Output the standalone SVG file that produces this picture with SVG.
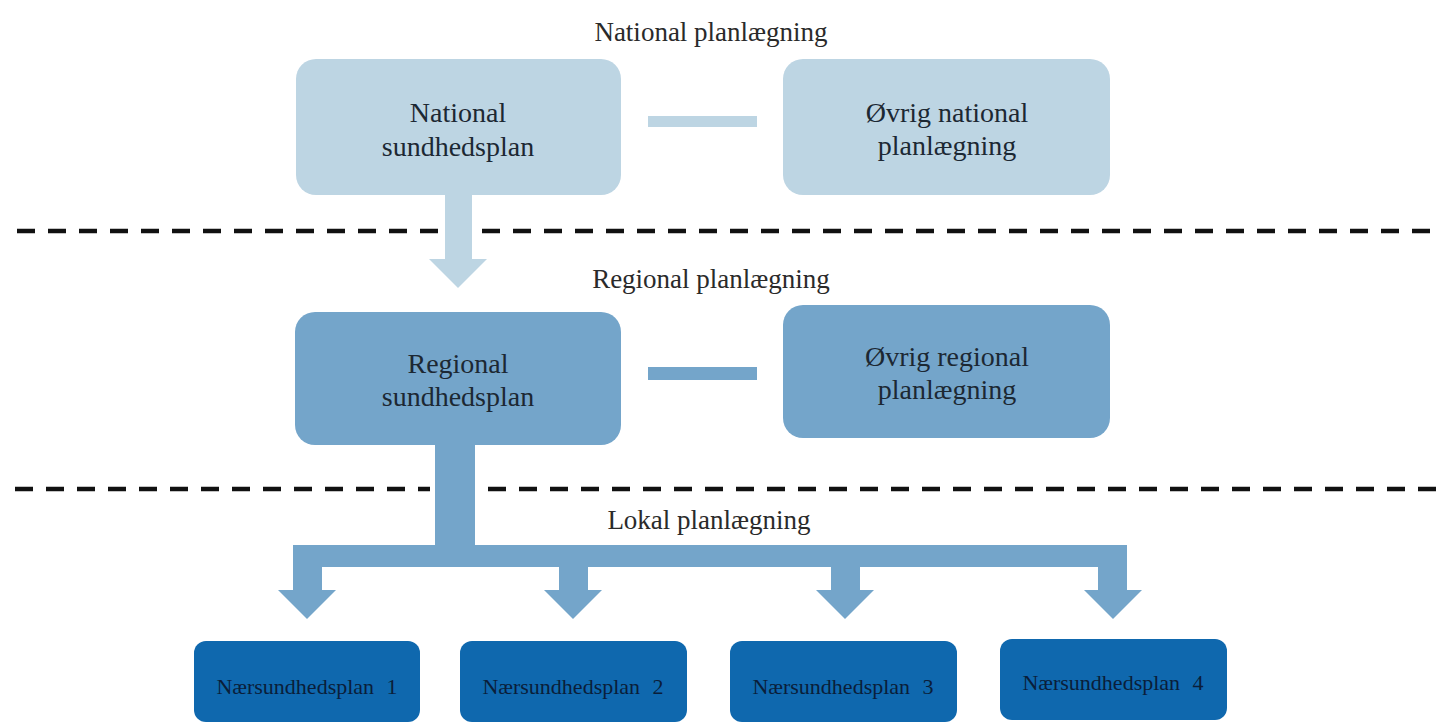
<svg xmlns="http://www.w3.org/2000/svg" width="1436" height="725" viewBox="0 0 1436 725">
  <style>
    .title { font-family: "Liberation Serif", "Times New Roman", serif; font-size: 27px; fill: #2a2a2a; text-anchor: middle; }
    .btext { font-family: "Liberation Serif", "Times New Roman", serif; font-size: 28px; fill: #1c2833; text-anchor: middle; }
    .ltext { font-family: "Liberation Serif", "Times New Roman", serif; font-size: 22px; fill: #0a1e3a; text-anchor: middle; word-spacing: 7px; }
    .nat { fill: #BDD5E3; }
    .reg { fill: #74A5CA; }
    .loc { fill: #0F68AE; }
    .dash { stroke: #111; stroke-width: 4.5; stroke-dasharray: 18 13; fill: none; }
  </style>
  <rect x="0" y="0" width="1436" height="725" fill="#ffffff"/>

  <g id="separators">
    <line class="dash" x1="17" y1="231" x2="440" y2="231"/>
    <line class="dash" x1="482" y1="231" x2="1436" y2="231"/>
    <line class="dash" x1="15" y1="489" x2="430" y2="489"/>
    <line class="dash" x1="488" y1="489" x2="1436" y2="489"/>
  </g>

  <g id="level-labels">
    <text class="title" x="711" y="41">National planlægning</text>
    <text class="title" x="711" y="288">Regional planlægning</text>
    <text class="title" x="709" y="529">Lokal planlægning</text>
  </g>

  <g id="connectors">
    <rect class="nat" x="648" y="116" width="109" height="11"/>
    <rect class="reg" x="648" y="367" width="109" height="13"/>
    <polygon class="nat" points="445,194 472,194 472,259 487,259 458,288 429,259 445,259"/>
    <rect class="reg" x="435" y="443" width="40" height="110"/>
    <rect class="reg" x="293" y="545" width="834" height="22"/>
    <polygon class="reg" points="293,545 322,545 322,590 336,590 307,619 278,590 293,590"/>
    <polygon class="reg" points="559,560 588,560 588,590 602,590 573,619 544,590 559,590"/>
    <polygon class="reg" points="831,560 860,560 860,590 874,590 845,619 816,590 831,590"/>
    <polygon class="reg" points="1098,545 1127,545 1127,590 1142,590 1113,619 1084,590 1098,590"/>
  </g>

  <g id="national-sundhedsplan">
    <rect class="nat" x="296" y="59" width="325" height="136" rx="20"/>
    <text class="btext" x="458" y="122">National</text>
    <text class="btext" x="458" y="156">sundhedsplan</text>
  </g>
  <g id="ovrig-national">
    <rect class="nat" x="783" y="59" width="327" height="136" rx="20"/>
    <text class="btext" x="947" y="122">Øvrig national</text>
    <text class="btext" x="947" y="155">planlægning</text>
  </g>
  <g id="regional-sundhedsplan">
    <rect class="reg" x="295" y="312" width="326" height="133" rx="20"/>
    <text class="btext" x="458" y="373">Regional</text>
    <text class="btext" x="458" y="406">sundhedsplan</text>
  </g>
  <g id="ovrig-regional">
    <rect class="reg" x="783" y="305" width="327" height="133" rx="20"/>
    <text class="btext" x="947" y="366">Øvrig regional</text>
    <text class="btext" x="947" y="399">planlægning</text>
  </g>

  <g id="naersundhedsplan-1">
    <rect class="loc" x="194" y="641" width="226" height="81" rx="12"/>
    <text class="ltext" x="307" y="694">Nærsundhedsplan 1</text>
  </g>
  <g id="naersundhedsplan-2">
    <rect class="loc" x="460" y="641" width="227" height="81" rx="12"/>
    <text class="ltext" x="573" y="694">Nærsundhedsplan 2</text>
  </g>
  <g id="naersundhedsplan-3">
    <rect class="loc" x="730" y="641" width="227" height="81" rx="12"/>
    <text class="ltext" x="843" y="694">Nærsundhedsplan 3</text>
  </g>
  <g id="naersundhedsplan-4">
    <rect class="loc" x="1000" y="639" width="227" height="81" rx="12"/>
    <text class="ltext" x="1113" y="690">Nærsundhedsplan 4</text>
  </g>
</svg>
